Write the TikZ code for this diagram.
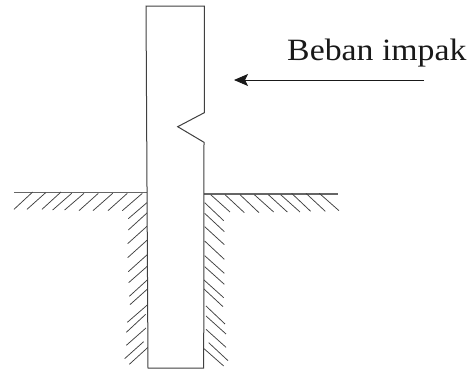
\documentclass[tikz,border=0pt]{standalone}
\usepackage{fontspec}
\setmainfont{Liberation Serif}
\usetikzlibrary{arrows.meta}
\tikzset{
  outline/.style={draw=black!75,line width=1pt,line join=miter},
  ground/.style={draw=black!60,line width=1.2pt},
  hatch/.style={draw=black!75,line width=0.75pt},
  force/.style={draw=black!90,line width=0.9pt,-{Stealth[length=14pt,width=12pt,inset=3pt]}},
  label/.style={inner sep=0pt,anchor=base west,text=black!90,xscale=1.09,font=\fontsize{31}{34}\selectfont}
}
\begin{document}
\begin{tikzpicture}[x=1pt,y=-1pt]
\useasboundingbox (0,0) rectangle (468,372);
% ground
\coordinate (gl1) at (14,192.7);
\coordinate (gl2) at (147.3,192.7);
\coordinate (gr1) at (204,194);
\coordinate (gr2) at (338,194);
\draw[ground] (gl1) -- (gl2);
\draw[ground] (gr1) -- (gr2);
% left hatching (zoom coordinates: /3, +170)
\begin{scope}[shift={(0,170)},x=0.3333pt,y=-0.3333pt]
\foreach \a/\b/\c/\d in {98/66/42/118,137/68/81/118,183/66/126/118,215/70/158/120,252/70/194/120,295/70/237/122,338/70/279/122,382/70/324/122,427/70/367/122,
 442/97/385/146,442/128/385/180,442/168/383/221,442/210/383/263,444/252/385/305,444/287/386/338,444/328/388/379,447/353/390/404,442/405/382/457,437/433/379/487,438/474/379/526,431/515/374/566,444/532/388/583}
  \draw[hatch] (\a,\b) -- (\c,\d);
\end{scope}
% right hatching
\begin{scope}[shift={(190,170)},x=0.3333pt,y=-0.3333pt]
\foreach \a/\b/\c/\d in {62/74/120/126,105/74/163/128,150/74/207/128,193/74/251/126,235/74/292/126,272/74/330/126,305/70/362/124,348/70/406/124,388/70/447/122,
 44/98/101/152,44/130/103/185,44/170/103/224,44/213/103/268,44/257/103/310,44/290/103/343,42/330/101/383,42/357/99/410,48/408/105/462,48/438/108/492,48/478/108/532,56/518/114/572,42/536/101/588}
  \draw[hatch] (\a,\b) -- (\c,\d);
\end{scope}
% notched pile
\draw[outline,fill=white] (146,6) -- (204.3,6) -- (204.3,112.7) -- (177.7,126.7) -- (204,142.3) -- (203.7,368) -- (148,368) -- cycle;
% load
\coordinate (fs) at (424,80);
\coordinate (fe) at (234,80);
\draw[force] (fs) -- (fe);
\node[label] (t) at (287,60) {Beban impak};
\end{tikzpicture}
\end{document}
